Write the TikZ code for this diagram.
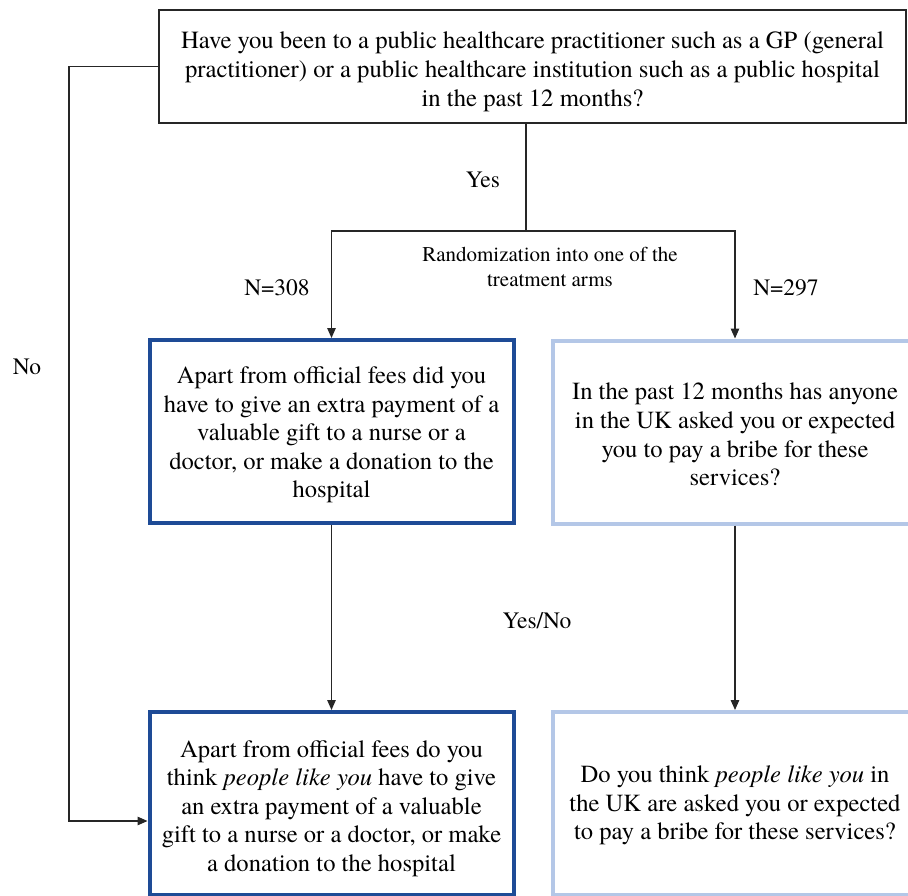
\documentclass[tikz,border=0pt]{standalone}
\usepackage{fontspec}
\setmainfont{texgyretermes}[Extension=.otf, UprightFont=*-regular, ItalicFont=*-italic, BoldFont=*-bold, BoldItalicFont=*-bolditalic]
\usetikzlibrary{arrows.meta,calc}
\definecolor{darkblue}{RGB}{30,75,150}
\definecolor{lightblue}{RGB}{180,199,231}
\newcommand{\tgap}[1]{\rule{0pt}{#1pt}}
\tikzset{
  boxtext/.style={font=\fontsize{24.6}{28.6}\selectfont, align=center, inner sep=0pt},
  qbox/.style={boxtext, font=\fontsize{24.7}{29.3}\selectfont, draw=black!85, line width=1.3pt, minimum width=747pt, minimum height=113pt},
  darkbox/.style={boxtext, draw=darkblue, line width=4pt, minimum width=364pt, minimum height=183pt},
  lightbox/.style={boxtext, draw=lightblue, line width=4pt, minimum width=364pt, minimum height=183pt},
  lbl/.style={font=\fontsize{23.5}{27}\selectfont, inner sep=0pt},
  smalllbl/.style={font=\fontsize{21}{25}\selectfont, align=center, inner sep=0pt},
  conn/.style={draw=black!85, line width=1.3pt},
  arr/.style={conn, -{Triangle[length=10pt,width=8.5pt]}}
}
\begin{document}
\begin{tikzpicture}[x=1pt,y=-1pt]
\useasboundingbox (0,0) rectangle (908,896);
\clip (0,0) rectangle (908,896);
\node[qbox] (top) at (532.5,66.5) {\tgap{27.4}Have you been to a public healthcare practitioner such as a GP (general\\practitioner) or a public healthcare institution such as a public hospital\\in the past 12 months?};
\node[darkbox] (ml) at (331.5,431.5) {\tgap{23.8}Apart from official fees did you\\have to give an extra payment of a\\valuable gift to a nurse or a\\doctor, or make a donation to the\\hospital};
\node[lightbox] (mr) at (735,432) {\tgap{21.8}In the past 12 months has anyone\\in the UK asked you or expected\\you to pay a bribe for these\\services?};
\node[darkbox] (bl) at (331.5,803.5) {\tgap{26.8}Apart from official fees do you\\think \textit{people like you} have to give\\an extra payment of a valuable\\gift to a nurse or a doctor, or make\\a donation to the hospital};
\node[lightbox] (br) at (735,803.5) {\tgap{20.8}Do you think \textit{people like you} in\\the UK are asked you or expected\\to pay a bribe for these services?};
\node[lbl] (yes) at (483,180) {Yes};
\node[smalllbl] (rand) at (550,267) {Randomization into one of the\\treatment arms};
\node[lbl] (n308) at (277,288) {N=308};
\node[lbl] (n297) at (786,288) {N=297};
\node[lbl] (no) at (27,367) {No};
\node[lbl] (yesno) at (537,621) {Yes/No};
\coordinate (split) at (526,231);
\coordinate (nocorner) at (69,66.5);
\coordinate (noend) at (69,821);
\draw[conn] (split |- top.south) -- (split);
\draw[arr] (split) -| (ml.north);
\draw[arr] (split) -| (mr.north);
\draw[arr] (ml.south) -- (bl.north);
\draw[arr] (mr.south) -- (br.north);
\draw[arr] (top.west) -- (nocorner) -- (noend) -- (bl.west |- noend);
\end{tikzpicture}
\end{document}
